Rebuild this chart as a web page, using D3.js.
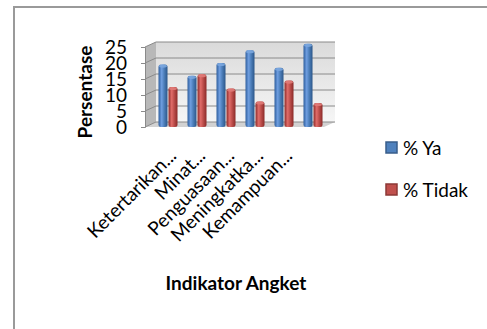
<!DOCTYPE html>
<html><head><meta charset="utf-8">
<script src="https://cdn.jsdelivr.net/npm/d3@7"></script>
<style>
html,body{margin:0;padding:0;background:#fff;}
svg{display:block;font-family:Lato,"Open Sans",sans-serif;}
</style></head>
<body>
<script>
const categories = ["Ketertarikan...", "Minat...", "Penguasaan...", "Meningkatka...", "Kemampuan...", ""];
const seriesNames = ["% Ya", "% Tidak"];
const ya = [19.5, 16, 20, 24, 18.5, 26];
const tidak = [12.5, 16.5, 12, 8, 14.5, 7.5];
const yTicks = [0, 5, 10, 15, 20, 25];

const W = 487, H = 329;
const svg = d3.select("body").append("svg").attr("width", W).attr("height", H);
const defs = svg.append("defs");

function hgrad(id, stops) {
  const g = defs.append("linearGradient").attr("id", id).attr("x1", "0").attr("x2", "1").attr("y1", "0").attr("y2", "0");
  stops.forEach(s => g.append("stop").attr("offset", s[0]).attr("stop-color", s[1]));
}
hgrad("gBlue", [[0, "#2f5f9e"], [0.35, "#6f9ee0"], [0.6, "#4f81bd"], [1, "#2b5689"]]);
hgrad("gRed", [[0, "#8e2c2a"], [0.35, "#e06c69"], [0.6, "#c0504d"], [1, "#8a2a28"]]);
const wg = defs.append("linearGradient").attr("id", "gWall").attr("x1", "0").attr("x2", "0").attr("y1", "0").attr("y2", "1");
wg.append("stop").attr("offset", 0).attr("stop-color", "#dadada");
wg.append("stop").attr("offset", 1).attr("stop-color", "#f6f6f6");

// outer frame
svg.append("text").attr("x", 10).attr("y", -4).attr("font-family", "Liberation Serif").attr("font-size", 16).text("g");
svg.append("path").attr("d", "M14,329 L14,7 L487,7").attr("fill", "none").attr("stroke", "#9a9a9a").attr("stroke-width", 2);

// scales
const x0 = 145, x1 = 322;
const dx = 11, dy = -5;
const y = d3.scaleLinear().domain([0, 25]).range([127, 47]);
const x = d3.scaleBand().domain(d3.range(categories.length)).range([153, 327]).padding(0);
const xs = d3.scaleBand().domain(seriesNames).range([0, 20]);

// back wall
svg.append("rect").attr("x", x0 + dx).attr("y", y(25) + dy).attr("width", x1 + dx - (x0 + dx) + 2).attr("height", y(0) - y(25))
  .attr("fill", "url(#gWall)");
// side wall
svg.append("path").attr("d", `M${x0},${y(25)} L${x0 + dx},${y(25) + dy} L${x0 + dx},${y(0) + dy} L${x0},${y(0)} Z`).attr("fill", "#b8b8b8");
// floor
svg.append("path").attr("d", `M${x0},${y(0)} L${x0 + dx},${y(0) + dy} L${x1 + dx + 2},${y(0) + dy} L${x1 + 2},${y(0)} Z`).attr("fill", "#d2d2d2");

// gridlines
yTicks.forEach(t => {
  svg.append("path").attr("d", `M${x0},${y(t)} L${x0 + dx},${y(t) + dy} L${x1 + dx + 2},${y(t) + dy}`)
    .attr("fill", "none").attr("stroke", "#8a8a8a").attr("stroke-width", 1);
});

// y axis
const yAxis = d3.axisLeft(y).tickValues(yTicks).tickSize(4).tickPadding(14);
const ga = svg.append("g").attr("transform", `translate(${x0},0)`).call(yAxis);
ga.select(".domain").attr("stroke", "#8a8a8a");
ga.selectAll(".tick line").attr("stroke", "#8a8a8a");
ga.selectAll(".tick text").attr("font-size", 19).attr("font-family", "Lato").attr("fill", "#000");

// bars
const data = categories.map((c, i) => ({ i, vals: [{ s: "% Ya", v: ya[i], f: "url(#gBlue)", top: "#7aa6de" }, { s: "% Tidak", v: tidak[i], f: "url(#gRed)", top: "#e07b78" }] }));
const grp = svg.append("g").selectAll("g").data(data).join("g").attr("transform", d => `translate(${x(d.i) + x.bandwidth() / 2 - 10},0)`);
grp.selectAll("rect.b").data(d => d.vals).join("rect").attr("class", "b")
  .attr("x", d => xs(d.s) + 1).attr("width", xs.bandwidth() - 1)
  .attr("y", d => y(d.v)).attr("height", d => y(0) - y(d.v)).attr("rx", 2.5)
  .attr("fill", d => d.f);
grp.selectAll("ellipse.t").data(d => d.vals).join("ellipse").attr("class", "t")
  .attr("cx", d => xs(d.s) + 1 + (xs.bandwidth() - 1) / 2).attr("cy", d => y(d.v) + 1.5)
  .attr("rx", (xs.bandwidth() - 1) / 2 - 0.5).attr("ry", 1.6).attr("fill", d => d.top).attr("opacity", 0.9);

// category labels
svg.append("g").selectAll("text").data(categories).join("text")
  .attr("transform", (d, i) => `translate(${x(i) + x.bandwidth() / 2 + 10},157) rotate(-45)`)
  .attr("text-anchor", "end").attr("font-size", 19).attr("fill", "#000").text(d => d);

// axis titles
svg.append("text").attr("transform", `translate(92,92) rotate(-90)`).attr("text-anchor", "middle")
  .attr("font-size", 19).attr("font-weight", "bold").text("Persentase");
svg.append("text").attr("x", 236).attr("y", 290).attr("text-anchor", "middle")
  .attr("font-size", 19).attr("font-weight", "bold").text("Indikator Angket");

// legend
const lg = svg.append("g").selectAll("g").data([{ n: seriesNames[0], c: "#4f81bd", s: "#385d8a", yy: 148 }, { n: seriesNames[1], c: "#c0504d", s: "#8c3836", yy: 190 }]).join("g")
  .attr("transform", d => `translate(386,${d.yy})`);
lg.append("rect").attr("x", 0).attr("y", -6).attr("width", 11).attr("height", 11).attr("fill", d => d.c).attr("stroke", d => d.s).attr("stroke-width", 1.5);
lg.append("text").attr("x", 17).attr("y", 6.5).attr("font-size", 19).attr("fill", "#000").text(d => d.n);
</script>
</body></html>
